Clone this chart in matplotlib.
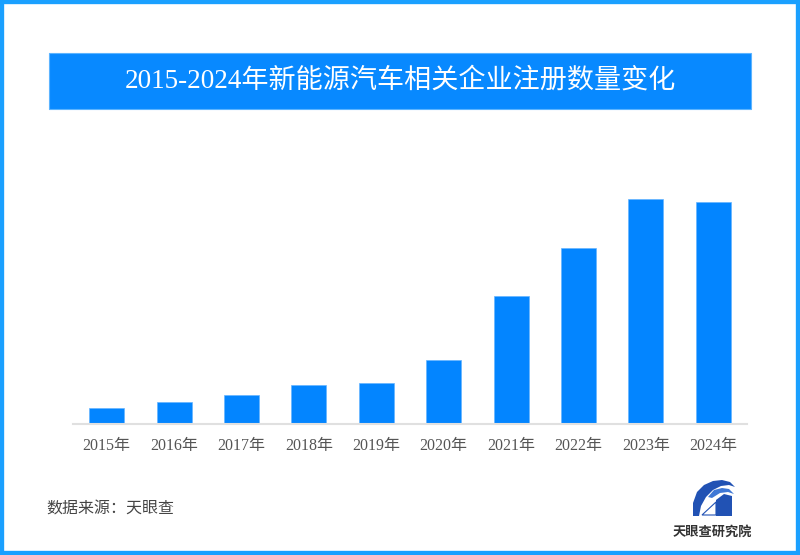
import matplotlib
matplotlib.use("Agg")
import matplotlib.pyplot as plt
import matplotlib.patches as mpatches
import numpy as np

plt.rcParams["font.family"] = ["Liberation Serif", "Noto Sans CJK SC", "DejaVu Sans"]

# 数据（单位未标注，按图中柱高估读）
years = ["2015年", "2016年", "2017年", "2018年", "2019年",
         "2020年", "2021年", "2022年", "2023年", "2024年"]
counts = [1.60, 2.23, 2.90, 3.86, 4.13, 6.43, 12.83, 17.60, 22.53, 22.20]

TITLE = "2015-2024年新能源汽车相关企业注册数量变化"
SOURCE = "数据来源：天眼查"
LOGO_TEXT = "天眼查研究院"

W, H = 800, 555
BAR_BLUE = "#0385ff"
BANNER_BLUE = "#0889ff"
BORDER_BLUE = "#1aa0ff"
LOGO_BLUE = "#2152b4"


def px(x, y):
    """pixel coords (top-left origin) -> figure fraction"""
    return x / W, 1 - y / H


fig = plt.figure(figsize=(8, 5.55), dpi=100)
fig.patch.set_facecolor("white")

# outer border
fig.patches.append(mpatches.Rectangle((0, 0), 1, 1, transform=fig.transFigure,
                                      fill=False, ec=BORDER_BLUE, lw=6))

# title banner
bx, by = px(49, 109)
fig.patches.append(mpatches.Rectangle((bx, by), 702 / W, 56 / H,
                                      transform=fig.transFigure,
                                      fc=BANNER_BLUE, ec="#5cb4ff", lw=0.8))
fig.text(0.5, 1 - 81 / H, TITLE, ha="center", va="center",
         color="white", fontsize=19.5)

# chart
left, bottom = px(73, 424)
ax = fig.add_axes([left, bottom, (747 - 73) / W, (424 - 140) / H])
x = np.arange(len(years))
ax.bar(x, counts, width=0.52, color=BAR_BLUE, edgecolor="#66b5ff", lw=0.5)
ax.set_xlim(-0.5, len(years) - 0.5)
ax.set_ylim(0, 22.53 * 284 / 225.3)
ax.set_xticks(x)
ax.set_xticklabels(years, fontsize=11.5, color="#555555")
ax.tick_params(axis="x", length=0, pad=10)
ax.set_yticks([])
for s in ["top", "left", "right"]:
    ax.spines[s].set_visible(False)
ax.spines["bottom"].set_color("#e0e0e0")
ax.spines["bottom"].set_linewidth(1.5)

# source
fig.text(46 / W, 1 - 509 / H, SOURCE, ha="left", va="center",
         color="#444444", fontsize=11.5, family=["Noto Sans CJK SC"])

# logo (rough)
wing = [(693, 516), (693, 503), (697, 492), (704, 485), (713, 481), (722, 480),
        (730, 482), (735, 487), (729, 485), (721, 486), (713, 490), (706, 497),
        (701, 506), (699, 516)]
wing2 = [(708, 497), (714, 490), (722, 488), (729, 489), (734, 494), (728, 492),
         (720, 493), (712, 498)]
block = [(716, 500), (724, 494), (732, 496), (732, 516), (716, 516)]
tri = [(702, 515), (716, 502), (716, 515)]
for pts, fc, ec in [(wing, LOGO_BLUE, "none"), (wing2, "#3f78d6", "none"),
                    (block, LOGO_BLUE, "none"), (tri, "white", LOGO_BLUE)]:
    fig.patches.append(mpatches.Polygon([px(a, b) for a, b in pts], closed=True,
                                        transform=fig.transFigure,
                                        fc=fc, ec=ec, lw=0.8))
fig.text(712 / W, 1 - 532 / H, LOGO_TEXT, ha="center", va="center",
         color="#333333", fontsize=9.5, fontweight="bold",
         family=["Noto Sans CJK SC"])

fig.savefig("out.png", dpi=100)
